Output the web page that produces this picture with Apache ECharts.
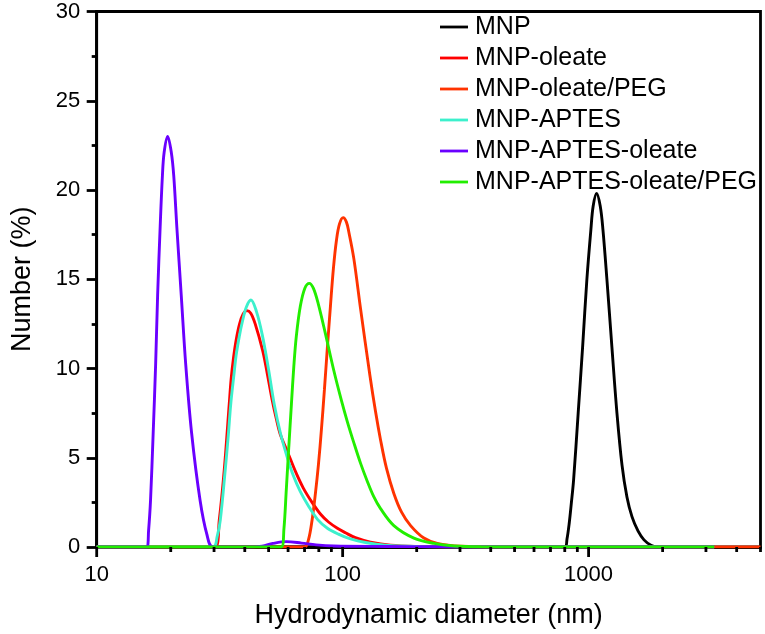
<!DOCTYPE html>
<html>
<head>
<meta charset="utf-8">
<script src="https://cdn.jsdelivr.net/npm/echarts@6/dist/echarts.min.js"></script>
<style>
html,body{margin:0;padding:0;background:#fff;}
#chart{width:765px;height:634px;}
</style>
</head>
<body>
<div id="chart"></div>
<script>
// ---- data ----
const seriesNames = ['MNP', 'MNP-oleate', 'MNP-oleate/PEG', 'MNP-APTES', 'MNP-APTES-oleate', 'MNP-APTES-oleate/PEG'];
const seriesColors = ['#000000', '#FF0000', '#FF3300', '#3CF0CC', '#6A00FF', '#22EE00'];

const mnpX = [10, 800.7, 817, 833.7, 850, 868.9, 907.1, 945.5, 984.2, 1021.9, 1043.9, 1078, 1115, 1143.5, 1187, 1244, 1304, 1367, 1432, 1501, 1588, 1680, 1794, 1916, 3240];
const mnpY = [0, 0, 0.45, 1.3, 2.4, 3.75, 7.5, 11.2, 15.0, 17.8, 19.1, 19.8, 19.1, 17.8, 15.0, 11.2, 7.5, 4.6, 2.8, 1.7, 0.9, 0.4, 0.1, 0, 0];

const oleateX = [10, 30.3, 31.5, 33.0, 34.6, 35.2, 36.0, 36.9, 38.1, 39.4, 40.8, 42.3, 44.1, 47.3, 49.4, 51.6, 53.7, 55.8, 59.6, 64.2, 69.2, 75.1, 81.2, 87.6, 95.2, 102.6, 112.7, 129.8, 156.6, 207.5, 301.9, 3240];
const oleateY = [0, 0, 1.5, 4.3, 8.05, 9.4, 10.6, 11.6, 12.5, 13.05, 13.24, 13.1, 12.5, 11.0, 9.7, 8.3, 7.2, 6.3, 5.35, 4.25, 3.3, 2.5, 1.85, 1.4, 1.05, 0.8, 0.52, 0.27, 0.1, 0.03, 0, 0];

const oleatePegX = [10, 69.9, 72.6, 75.1, 77.5, 79.7, 82.0, 84.3, 86.7, 89.2, 91.7, 94.4, 97.1, 100.5, 103.6, 105.9, 111.0, 118.2, 129.0, 136.0, 142.6, 150.8, 161.5, 173.6, 188.9, 214.0, 242.6, 301.9, 439.4, 5000];
const oleatePegY = [0, 0, 0.4, 1.5, 3.0, 4.6, 6.6, 8.8, 11.2, 13.5, 15.6, 17.2, 18.1, 18.45, 18.2, 17.66, 16.17, 13.37, 9.64, 7.6, 6.0, 4.4, 3.0, 1.95, 1.2, 0.5, 0.2, 0.04, 0, 0];

const aptesX = [10, 29.7, 30.9, 31.8, 33.3, 34.3, 35.1, 36.1, 36.9, 38.0, 39.0, 40.6, 42.4, 44.6, 47.1, 49.9, 52.7, 55.8, 59.6, 63.0, 67.3, 72.6, 79.0, 86.7, 96.1, 107.6, 123.8, 149.4, 207.5, 301.9, 3240];
const aptesY = [0, 0, 0.6, 1.5, 4.3, 6.3, 8.05, 9.6, 10.75, 11.8, 12.55, 13.45, 13.84, 13.2, 11.9, 10.0, 8.0, 6.4, 5.0, 4.0, 3.1, 2.3, 1.55, 1.05, 0.72, 0.45, 0.25, 0.1, 0.02, 0, 0];

const aptesOleateX = [10, 16.0, 16.25, 16.55, 16.97, 17.36, 17.69, 18.11, 18.5, 18.8, 19.43, 20.11, 20.57, 21.18, 22.07, 23.02, 24.31, 26.33, 28.06, 29.7, 40, 47, 52, 59, 68, 78, 92, 150, 243, 300, 3240];
const aptesOleateY = [0, 0, 0.9, 2.6, 6.4, 10.2, 14.1, 17.9, 20.8, 22.1, 23.0, 22.1, 20.8, 17.9, 14.1, 10.2, 6.4, 2.6, 0.7, 0, 0, 0.05, 0.2, 0.3, 0.22, 0.12, 0.06, 0.03, 0.01, 0, 0];

const aptesOleatePegX = [10, 56.3, 57.7, 59.0, 60.4, 61.9, 63.3, 64.8, 67.3, 70.2, 73.2, 76.0, 79.5, 85.1, 92.0, 98.9, 104.6, 111.0, 118.2, 125.8, 133.5, 142.6, 161.5, 194.8, 235.0, 283.5, 364.2, 529.9, 3240];
const aptesOleatePegY = [0, 0, 1.0, 3.2, 5.6, 8.0, 10.1, 11.8, 13.5, 14.5, 14.77, 14.5, 13.65, 11.95, 9.9, 8.2, 7.0, 5.85, 4.7, 3.7, 2.85, 2.15, 1.2, 0.5, 0.2, 0.06, 0.01, 0, 0];

const xTickLabels = [10, 100, 1000];
const xMajorTicks = [10, 100, 1000];
const xMinorTicks = [20, 30, 40, 50, 60, 70, 80, 90, 200, 300, 400, 500, 600, 700, 800, 900, 2000, 3000, 4000, 5000];
const yTickLabels = [0, 5, 10, 15, 20, 25, 30];

// ---- chart ----
const FONT = '"Liberation Sans", Arial, sans-serif';
const AXW = 2.8;
const xs = [mnpX, oleateX, oleatePegX, aptesX, aptesOleateX, aptesOleatePegX];
const ys = [mnpY, oleateY, oleatePegY, aptesY, aptesOleateY, aptesOleatePegY];

const lineSeries = seriesNames.map((name, i) => ({
  name: name,
  type: 'line',
  data: xs[i].map((x, j) => [x, ys[i][j]]),
  smooth: 0.35,
  symbol: 'none',
  clip: true,
  lineStyle: { color: seriesColors[i], width: 2.9 },
  itemStyle: { color: seriesColors[i] },
  z: 3
}));

function tickSeries(values, len) {
  return {
    type: 'custom',
    silent: true,
    z: 5,
    data: values.map(v => [v, 0]),
    renderItem: function (params, api) {
      const p = api.coord([api.value(0), 0]);
      return {
        type: 'line',
        shape: { x1: p[0], y1: p[1], x2: p[0], y2: p[1] + len },
        style: { stroke: '#000', lineWidth: AXW }
      };
    }
  };
}

const chart = echarts.init(document.getElementById('chart'), null, { renderer: 'canvas' });
chart.setOption({
  animation: false,
  backgroundColor: '#fff',
  grid: {
    left: 96.7, top: 11.5, right: 4.5, bottom: 87,
    show: true, borderColor: '#000', borderWidth: AXW, backgroundColor: 'transparent'
  },
  legend: {
    data: seriesNames.map((n, i) => ({ name: n, itemStyle: { color: seriesColors[i] } })),
    orient: 'vertical',
    icon: 'rect',
    left: 435,
    top: 9.5,
    itemWidth: 28,
    itemHeight: 2.8,
    itemGap: 6,
    textStyle: { fontFamily: FONT, fontSize: 25, color: '#000', lineHeight: 25, padding: [0, 0, 0, 2] }
  },
  xAxis: {
    type: 'log',
    logBase: 10,
    min: 10,
    max: 5000,
    axisLine: { show: true, lineStyle: { color: '#000', width: AXW } },
    axisTick: { show: false },
    minorTick: { show: false },
    splitLine: { show: false },
    axisLabel: {
      fontFamily: FONT, fontSize: 22, color: '#000', margin: 17,
      showMaxLabel: false,
      formatter: function (v) {
        const r = Math.round(v);
        return xTickLabels.indexOf(r) >= 0 ? String(r) : '';
      }
    },
    name: 'Hydrodynamic diameter (nm)',
    nameLocation: 'middle',
    nameGap: 55,
    nameTextStyle: { fontFamily: FONT, fontSize: 27, color: '#000' }
  },
  yAxis: {
    type: 'value',
    min: 0,
    max: 30,
    interval: 5,
    axisLine: { show: true, lineStyle: { color: '#000', width: AXW } },
    axisTick: { show: true, length: 10, lineStyle: { color: '#000', width: AXW } },
    minorTick: { show: true, splitNumber: 2, length: 5, lineStyle: { color: '#000', width: AXW } },
    splitLine: { show: false },
    minorSplitLine: { show: false },
    axisLabel: {
      fontFamily: FONT, fontSize: 22, color: '#000', margin: 16.5,
      formatter: function (v) { return yTickLabels.indexOf(v) >= 0 ? String(v) : ''; }
    },
    name: 'Number (%)',
    nameLocation: 'middle',
    nameGap: 61,
    nameTextStyle: { fontFamily: FONT, fontSize: 27, color: '#000' }
  },
  series: lineSeries.concat([tickSeries(xMajorTicks, 10), tickSeries(xMinorTicks, 5)])
});
</script>
</body>
</html>
